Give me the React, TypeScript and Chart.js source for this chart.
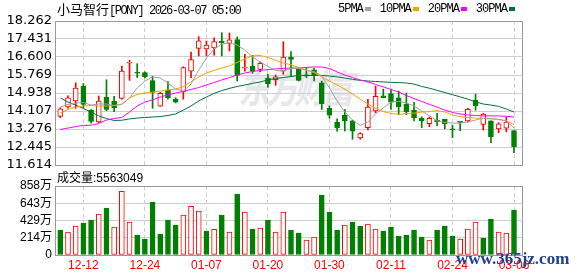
import React, { useEffect, useRef } from 'react';
import { Chart, registerables } from 'chart.js';

Chart.register(...registerables);

// ---------- data ----------
const stockName = '小马智行';
const ticker = 'PONY';
const stamp = '2026-03-07 05:00';
const lastVolume = '5563049';

const dates = [
  '12-09', '12-10', '12-11', '12-12', '12-15', '12-16', '12-17', '12-18', '12-19', '12-22',
  '12-23', '12-24', '12-26', '12-29', '12-30', '12-31', '01-02', '01-05', '01-06', '01-07',
  '01-08', '01-09', '01-12', '01-13', '01-14', '01-15', '01-16', '01-20', '01-21', '01-22',
  '01-23', '01-26', '01-27', '01-28', '01-29', '01-30', '02-02', '02-03', '02-04', '02-05',
  '02-06', '02-09', '02-10', '02-11', '02-12', '02-13', '02-17', '02-18', '02-19', '02-20',
  '02-23', '02-24', '02-25', '02-26', '02-27', '03-02', '03-03', '03-04', '03-05', '03-06',
];

const open = [
  13.86, 14.29, 14.57, 15.26, 14.15, 13.6, 14.75, 14.57, 14.69, 16.31,
  15.87, 15.88, 15.51, 14.33, 15.06, 14.65, 15.0, 15.95, 17.0, 16.97,
  17.02, 17.34, 17.23, 17.4, 16.08, 16.18, 16.03, 15.63, 15.55, 15.95,
  16.6, 16.03, 15.78, 16.01, 15.41, 14.23, 13.6, 13.91, 13.65, 12.86,
  13.34, 14.11, 14.81, 14.91, 14.71, 14.43, 14.15, 13.77, 13.52, 13.69,
  13.72, 13.26, 13.59, 13.65, 14.61, 13.49, 13.65, 13.28, 13.31, 13.2,
];
const high = [
  14.26, 14.81, 15.41, 15.37, 14.17, 14.8, 15.55, 14.78, 16.18, 16.45,
  16.29, 15.92, 15.71, 14.97, 15.46, 14.72, 16.15, 16.83, 17.54, 17.34,
  17.48, 17.72, 17.71, 17.52, 16.72, 16.68, 16.37, 15.8, 15.77, 17.31,
  16.85, 16.11, 16.11, 16.08, 15.49, 14.34, 13.75, 14.18, 13.68, 13.11,
  14.65, 15.26, 15.12, 15.12, 15.03, 14.94, 14.51, 13.84, 13.83, 14.0,
  13.72, 13.46, 13.59, 14.23, 14.89, 14.0, 13.65, 13.57, 13.82, 13.2,
];
const low = [
  13.8, 14.24, 14.23, 14.26, 13.54, 13.57, 14.12, 14.08, 14.65, 15.52,
  15.65, 15.63, 14.23, 14.32, 14.65, 14.48, 14.65, 15.65, 16.65, 16.65,
  16.68, 16.65, 16.88, 15.49, 15.95, 15.85, 15.92, 15.21, 15.29, 15.8,
  15.72, 15.49, 15.65, 15.49, 14.18, 13.77, 13.18, 13.18, 12.8, 12.8,
  13.23, 14.03, 14.72, 14.18, 13.95, 13.94, 13.65, 13.34, 13.38, 13.43,
  13.28, 12.88, 13.2, 13.59, 14.14, 13.23, 12.64, 13.1, 13.15, 12.18,
];
const close = [
  14.21, 14.71, 15.17, 14.41, 13.63, 14.57, 14.18, 14.25, 15.95, 16.35,
  15.85, 15.69, 14.97, 14.92, 14.72, 14.51, 16.11, 16.48, 17.35, 17.15,
  17.31, 17.26, 17.39, 15.75, 16.11, 15.95, 16.31, 15.37, 15.69, 16.6,
  16.49, 15.52, 15.72, 15.74, 14.44, 13.91, 13.34, 13.65, 13.18, 13.06,
  14.29, 14.78, 14.72, 14.52, 14.29, 14.06, 13.8, 13.65, 13.77, 13.61,
  13.52, 13.24, 13.58, 14.18, 14.35, 13.96, 12.92, 13.51, 13.59, 12.46,
];

const ma5 = [
  14.29, 14.41, 14.48, 14.5, 14.38, 14.43, 14.43, 14.36, 14.41, 14.71,
  15.17, 15.49, 15.68, 15.63, 15.4, 15.12, 15.03, 15.35, 16.0, 16.55,
  16.97, 17.2, 17.25, 17.15, 16.92, 16.6, 16.37, 16.16, 15.98, 15.95,
  16.07, 16.07, 15.98, 15.93, 15.72, 15.17, 14.57, 14.06, 13.69, 13.44,
  13.6, 13.97, 14.25, 14.52, 14.55, 14.48, 14.34, 14.11, 13.88, 13.65,
  13.58, 13.55, 13.55, 13.6, 13.69, 13.78, 13.76, 13.72, 13.65, 13.32,
];
const ma10 = [
  14.01, 14.18, 14.29, 14.34, 14.36, 14.34, 14.34, 14.36, 14.43, 14.71,
  14.87, 14.94, 14.98, 15.03, 15.08, 15.12, 15.24, 15.45, 15.68, 15.86,
  15.98, 16.09, 16.19, 16.35, 16.51, 16.65, 16.67, 16.58, 16.44, 16.32,
  16.24, 16.12, 16.0, 15.88, 15.68, 15.49, 15.31, 15.12, 14.89, 14.66,
  14.43, 14.22, 14.08, 13.99, 13.95, 13.99, 14.01, 14.06, 14.08, 14.13,
  14.06, 13.92, 13.85, 13.81, 13.78, 13.76, 13.74, 13.72, 13.65, 13.48,
];
const ma20 = [
  13.25, 13.32, 13.39, 13.44, 13.45, 13.53, 13.69, 13.76, 13.81, 14.06,
  14.34, 14.52, 14.62, 14.75, 14.85, 14.94, 15.01, 15.1, 15.19, 15.31,
  15.42, 15.54, 15.65, 15.77, 15.86, 15.93, 15.98, 16.02, 16.05, 16.07,
  16.09, 16.09, 16.12, 16.14, 16.14, 16.07, 15.91, 15.77, 15.65, 15.54,
  15.45, 15.33, 15.22, 15.1, 14.98, 14.82, 14.68, 14.55, 14.41, 14.29,
  14.15, 14.04, 13.97, 13.92, 13.9, 13.88, 13.88, 13.88, 13.86, 13.83,
];
const ma30 = [
  14.71, 14.52, 14.38, 14.22, 14.06, 13.88, 13.76, 13.67, 13.68, 13.74,
  13.78, 13.81, 13.83, 13.85, 13.9, 13.97, 14.15, 14.34, 14.57, 14.75,
  14.92, 15.05, 15.15, 15.24, 15.31, 15.38, 15.45, 15.54, 15.61, 15.65,
  15.7, 15.75, 15.75, 15.75, 15.75, 15.72, 15.68, 15.63, 15.57, 15.52,
  15.49, 15.47, 15.45, 15.43, 15.42, 15.4, 15.35, 15.24, 15.16, 15.06,
  14.96, 14.86, 14.76, 14.65, 14.53, 14.43, 14.38, 14.32, 14.2, 14.06,
];

// volume in 万 shares
const volume = [
  311, 286, 361, 398, 435, 510, 584, 348, 792, 410,
  249, 199, 659, 261, 435, 373, 497, 605, 547, 298,
  319, 497, 286, 759, 535, 323, 336, 435, 286, 535,
  311, 274, 187, 224, 746, 535, 311, 373, 410, 361,
  385, 323, 298, 348, 236, 249, 311, 224, 187, 311,
  361, 236, 199, 323, 410, 211, 448, 286, 274, 560,
];
// 1 = up day (red hollow), 0 = down day (green)
const volumeUp = [
  0, 1, 1, 0, 0, 1, 0, 1, 1, 1,
  0, 0, 0, 0, 0, 0, 1, 1, 1, 0,
  1, 0, 1, 0, 1, 0, 1, 0, 1, 1,
  0, 0, 1, 1, 0, 0, 0, 1, 0, 0,
  1, 1, 0, 0, 0, 0, 0, 0, 1, 0,
  0, 0, 1, 1, 1, 0, 0, 1, 1, 0,
];

const priceTicks = [11.614, 12.445, 13.276, 14.107, 14.938, 15.769, 16.6, 17.431, 18.262];
const priceTickLabels = ['11.614', '12.445', '13.276', '14.107', '14.938', '15.769', '16.600', '17.431', '18.262'];
const volumeTicks = [0, 214.5, 429, 643.5, 858];
const volumeTickLabels = ['0', '214万', '429万', '643万', '858万'];
const xTickLabels = ['12-12', '12-24', '01-07', '01-20', '01-30', '02-11', '02-24', '03-06'];

const maNames = ['5PMA', '10PMA', '20PMA', '30PMA'];
const maColors = ['#a0a0a0', '#f5a300', '#ff00ff', '#00703c'];

// ---------- styles ----------
const RED = '#ff0000';
const GREEN = '#008000';
const GRID = '#cfcfcf';
const FRAME = '#999999';
const X_MIN = -0.69;
const X_MAX = 60.04;

const framePlugin = {
  id: 'frame',
  afterDraw(chart: any) {
    const { ctx, chartArea: a } = chart;
    ctx.save();
    ctx.strokeStyle = FRAME;
    ctx.lineWidth = 1;
    ctx.strokeRect(
      Math.round(a.left) + 0.5,
      Math.round(a.top) + 0.5,
      Math.round(a.right - a.left),
      Math.round(a.bottom - a.top)
    );
    ctx.restore();
  },
};

function makeXScale(showLabels: boolean, height: number) {
  const tickIdx = xTickLabels.map((l) => dates.indexOf(l));
  return {
    type: 'linear',
    min: X_MIN,
    max: X_MAX,
    bounds: 'data',
    offset: false,
    afterBuildTicks: (s: any) => {
      s.ticks = tickIdx.map((v) => ({ value: v }));
    },
    afterFit: (s: any) => {
      s.height = height;
    },
    grid: { color: GRID, lineWidth: 1, drawTicks: false, offset: false },
    border: { display: false, dash: [4, 3] },
    ticks: {
      display: showLabels,
      autoSkip: false,
      maxRotation: 0,
      minRotation: 0,
      padding: 3,
      color: RED,
      font: { family: '"Liberation Sans", Arial, sans-serif', size: 12 },
      callback: (v: any) => dates[Math.round(v)] ?? '',
    },
  };
}

function makeYScale(ticks: number[], labels: string[], font: any) {
  return {
    type: 'linear',
    min: ticks[0],
    max: ticks[ticks.length - 1],
    bounds: 'data',
    afterBuildTicks: (s: any) => {
      s.ticks = ticks.map((v) => ({ value: v }));
    },
    afterFit: (s: any) => {
      s.width = 55;
    },
    grid: { color: GRID, drawTicks: false },
    border: { display: false },
    ticks: {
      autoSkip: false,
      padding: 3,
      color: '#000',
      font,
      callback: (_v: any, i: number) => labels[i],
    },
  };
}

export default function App() {
  const priceRef = useRef<HTMLCanvasElement | null>(null);
  const volRef = useRef<HTMLCanvasElement | null>(null);

  useEffect(() => {
    const idx = dates.map((_, i) => i);
    const up = idx.map((i) => close[i] >= open[i]);

    const priceChart = new Chart(priceRef.current as HTMLCanvasElement, {
      type: 'bar',
      data: {
        datasets: [
          ...[ma5, ma10, ma20, ma30].map((s, k) => ({
            type: 'line',
            data: s.map((v, i) => ({ x: i, y: v })),
            borderColor: maColors[k],
            borderWidth: 1,
            pointRadius: 0,
            tension: 0,
            fill: false,
            order: 0,
          })),
          {
            type: 'bar',
            data: idx.map((i) => ({ x: i, y: [open[i], close[i]] })),
            backgroundColor: idx.map((i) => (up[i] ? '#ffffff' : GREEN)),
            borderColor: idx.map((i) => (up[i] ? RED : GREEN)),
            borderWidth: 1,
            borderSkipped: false,
            barThickness: 5,
            minBarLength: 1,
            grouped: false,
            order: 1,
          },
          {
            type: 'bar',
            data: idx.map((i) => ({ x: i, y: [low[i], high[i]] })),
            backgroundColor: idx.map((i) => (up[i] ? RED : GREEN)),
            borderWidth: 0,
            barThickness: 1,
            grouped: false,
            order: 2,
          },
        ],
      } as any,
      options: {
        responsive: false,
        animation: false,
        devicePixelRatio: 1,
        layout: { padding: { left: 0, right: 56, top: 21, bottom: 0 } },
        plugins: { legend: { display: false }, tooltip: { enabled: false } },
        scales: {
          x: makeXScale(false, 13) as any,
          y: makeYScale(priceTicks, priceTickLabels, { family: '"DejaVu Sans", sans-serif', size: 13 }) as any,
        },
      },
      plugins: [framePlugin],
    });

    const volChart = new Chart(volRef.current as HTMLCanvasElement, {
      type: 'bar',
      data: {
        datasets: [
          {
            data: idx.map((i) => ({ x: i, y: volume[i] })),
            backgroundColor: idx.map((i) => (volumeUp[i] ? '#ffffff' : GREEN)),
            borderColor: idx.map((i) => (volumeUp[i] ? RED : GREEN)),
            borderWidth: 1,
            borderSkipped: false,
            barThickness: 5,
          },
        ],
      } as any,
      options: {
        responsive: false,
        animation: false,
        devicePixelRatio: 1,
        layout: { padding: { left: 0, right: 56, top: 16, bottom: 0 } },
        plugins: { legend: { display: false }, tooltip: { enabled: false } },
        scales: {
          x: makeXScale(true, 21) as any,
          y: makeYScale(volumeTicks, volumeTickLabels, {
            family: '"Liberation Sans", "Noto Sans CJK SC", sans-serif',
            size: 12,
          }) as any,
        },
      },
      plugins: [framePlugin],
    });

    return () => {
      priceChart.destroy();
      volChart.destroy();
    };
  }, []);

  return (
    <div
      style={{
        position: 'fixed',
        left: 0,
        top: 0,
        width: 578,
        height: 276,
        background: '#fff',
        overflow: 'hidden',
      }}
    >
      <div
        style={{
          position: 'absolute',
          left: 238,
          top: 66,
          fontSize: 32,
          fontWeight: 700,
          fontStyle: 'italic',
          color: '#e6e6eb',
          fontFamily: '"Noto Sans CJK SC", sans-serif',
          letterSpacing: -4,
          transform: 'scaleY(1.2)',
          transformOrigin: 'left top',
          whiteSpace: 'nowrap',
          lineHeight: '34px',
        }}
      >
        东方财富
      </div>
      <canvas ref={priceRef} width={578} height={178} style={{ position: 'absolute', left: 0, top: 0 }} />
      <canvas ref={volRef} width={578} height={106} style={{ position: 'absolute', left: 0, top: 170 }} />

      <div
        style={{
          position: 'absolute',
          left: 57,
          top: 1,
          whiteSpace: 'nowrap',
          lineHeight: '16px',
          color: '#000',
        }}
      >
        <span style={{ fontFamily: '"Noto Sans CJK SC", sans-serif', fontSize: 13 }}>{stockName}</span>
        <span style={{ fontFamily: '"Liberation Mono", monospace', fontSize: 12, letterSpacing: -1.5 }}>
          [{ticker}] {stamp}
        </span>
      </div>

      <div
        style={{
          position: 'absolute',
          left: 338,
          top: 2,
          whiteSpace: 'nowrap',
          lineHeight: '14px',
          fontFamily: '"Liberation Mono", monospace',
          fontSize: 12,
          color: '#000',
          display: 'flex',
          alignItems: 'center',
        }}
      >
        {maNames.map((n, k) => (
          <span key={n} style={{ display: 'flex', alignItems: 'center' }}>
            <span style={{ letterSpacing: -1 }}>{n}</span>
            <span
              style={{
                display: 'inline-block',
                width: 6,
                height: 4,
                background: maColors[k],
                marginLeft: 2,
                marginRight: 9,
              }}
            />
          </span>
        ))}
      </div>

      <div
        style={{
          position: 'absolute',
          left: 57,
          top: 169,
          whiteSpace: 'nowrap',
          lineHeight: '16px',
          color: '#000',
        }}
      >
        <span style={{ fontFamily: '"Noto Sans CJK SC", sans-serif', fontSize: 12 }}>成交量</span>
        <span style={{ fontFamily: '"Liberation Sans", sans-serif', fontSize: 12 }}>:{lastVolume}</span>
      </div>

      <div
        style={{
          position: 'absolute',
          left: 456,
          top: 250,
          whiteSpace: 'nowrap',
          fontFamily: '"Liberation Serif", serif',
          fontWeight: 700,
          fontSize: 17,
          lineHeight: '17px',
          color: '#1f3f8f',
        }}
      >
        www.365jz.com
      </div>
    </div>
  );
}
